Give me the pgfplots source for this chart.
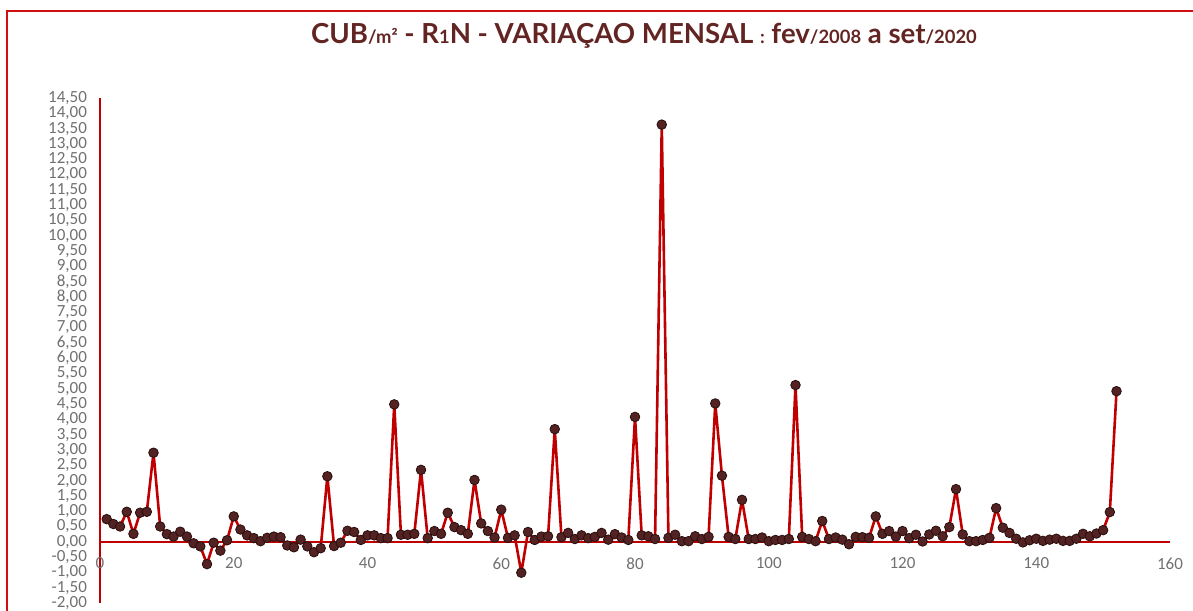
\documentclass[border=0pt]{standalone}
\usepackage{pgfplots}
\pgfplotsset{compat=1.18}
\usepackage{fontspec}
\setmainfont{Carlito}
\newfontfamily\titlefont{Lato}
\definecolor{axred}{HTML}{C00000}
\definecolor{brdred}{HTML}{D01010}
\definecolor{mkfill}{HTML}{532222}
\definecolor{mkdraw}{HTML}{2A0D0D}
\definecolor{ttl}{HTML}{632523}
\definecolor{tickgrey}{HTML}{707070}
\newcommand{\sm}[1]{{\fontsize{9.2}{10}\selectfont #1}}
\begin{document}
\begin{tikzpicture}
\path[use as bounding box] (0,0) rectangle (596.5pt,305pt);
\draw[brdred, line width=0.9pt] (3.5pt,-1pt) -- (3.5pt,299.5pt) -- (598pt,299.5pt);
\node[anchor=base, text=ttl, inner sep=0pt] at (322pt,283pt) {\titlefont\bfseries
 \fontsize{13.8}{15}\selectfont CUB\sm{/m²} - R\sm{1}N - VARIAÇAO MENSAL \sm{:} fev\sm{/2008} a set\sm{/2020}};
\begin{axis}[
  at={(50pt,3.5pt)}, anchor=south west,
  scale only axis, width=535pt, height=252.5pt,
  xmin=0, xmax=160, ymin=-2, ymax=14.5,
  axis x line*=middle, axis y line*=left,
  hide obscured x ticks=false, hide obscured y ticks=false,
  axis line style={draw=axred, line width=0.75pt},
  xtick={0,20,...,160},
  ytick distance=0.5,
  major tick length=0pt,
  tick label style={font=\fontsize{8.5}{9}\selectfont, text=tickgrey},
  xticklabel style={yshift=-4.5pt},
  yticklabel style={xshift=-3pt},
  /pgf/number format/assume math mode=true,
  yticklabel={\pgfmathprintnumber[fixed, fixed zerofill, precision=2, use comma]{\tick}},
  xticklabel={\pgfmathprintnumber[fixed, precision=0]{\tick}},
  clip=false,
]
\addplot[axred, line width=1.3pt, line join=round, mark=*, mark size=2.4pt,
  mark options={fill=mkfill, draw=mkdraw, line width=0.4pt}] coordinates {
(1,0.74)(2,0.58)(3,0.50)(4,0.98)(5,0.26)(6,0.95)(7,0.98)(8,2.91)(9,0.50)(10,0.25)
(11,0.17)(12,0.33)(13,0.17)(14,-0.05)(15,-0.15)(16,-0.73)(17,-0.03)(18,-0.29)(19,0.05)(20,0.83)
(21,0.40)(22,0.21)(23,0.12)(24,0.02)(25,0.13)(26,0.17)(27,0.15)(28,-0.12)(29,-0.18)(30,0.07)
(31,-0.15)(32,-0.34)(33,-0.21)(34,2.14)(35,-0.14)(36,-0.03)(37,0.36)(38,0.32)(39,0.06)(40,0.21)
(41,0.21)(42,0.12)(43,0.12)(44,4.49)(45,0.23)(46,0.23)(47,0.26)(48,2.35)(49,0.12)(50,0.35)
(51,0.26)(52,0.95)(53,0.48)(54,0.38)(55,0.26)(56,2.02)(57,0.60)(58,0.35)(59,0.14)(60,1.05)
(61,0.13)(62,0.21)(63,-1.01)(64,0.32)(65,0.06)(66,0.17)(67,0.18)(68,3.68)(69,0.15)(70,0.29)
(71,0.09)(72,0.21)(73,0.12)(74,0.16)(75,0.29)(76,0.07)(77,0.25)(78,0.14)(79,0.06)(80,4.08)
(81,0.21)(82,0.18)(83,0.09)(84,13.63)(85,0.13)(86,0.23)(87,0.02)(88,0.02)(89,0.18)(90,0.09)
(91,0.16)(92,4.52)(93,2.16)(94,0.16)(95,0.09)(96,1.37)(97,0.09)(98,0.09)(99,0.14)(100,0.02)
(101,0.06)(102,0.06)(103,0.09)(104,5.12)(105,0.16)(106,0.09)(107,0.02)(108,0.68)(109,0.09)(110,0.14)
(111,0.07)(112,-0.08)(113,0.16)(114,0.15)(115,0.13)(116,0.83)(117,0.26)(118,0.35)(119,0.17)(120,0.35)
(121,0.12)(122,0.23)(123,0.01)(124,0.24)(125,0.36)(126,0.18)(127,0.48)(128,1.72)(129,0.24)(130,0.02)
(131,0.02)(132,0.06)(133,0.13)(134,1.10)(135,0.46)(136,0.29)(137,0.10)(138,-0.02)(139,0.05)(140,0.10)
(141,0.03)(142,0.07)(143,0.10)(144,0.03)(145,0.03)(146,0.10)(147,0.26)(148,0.18)(149,0.27)(150,0.38)
(151,0.97)(152,4.92)
};
\end{axis}
\end{tikzpicture}
\end{document}
